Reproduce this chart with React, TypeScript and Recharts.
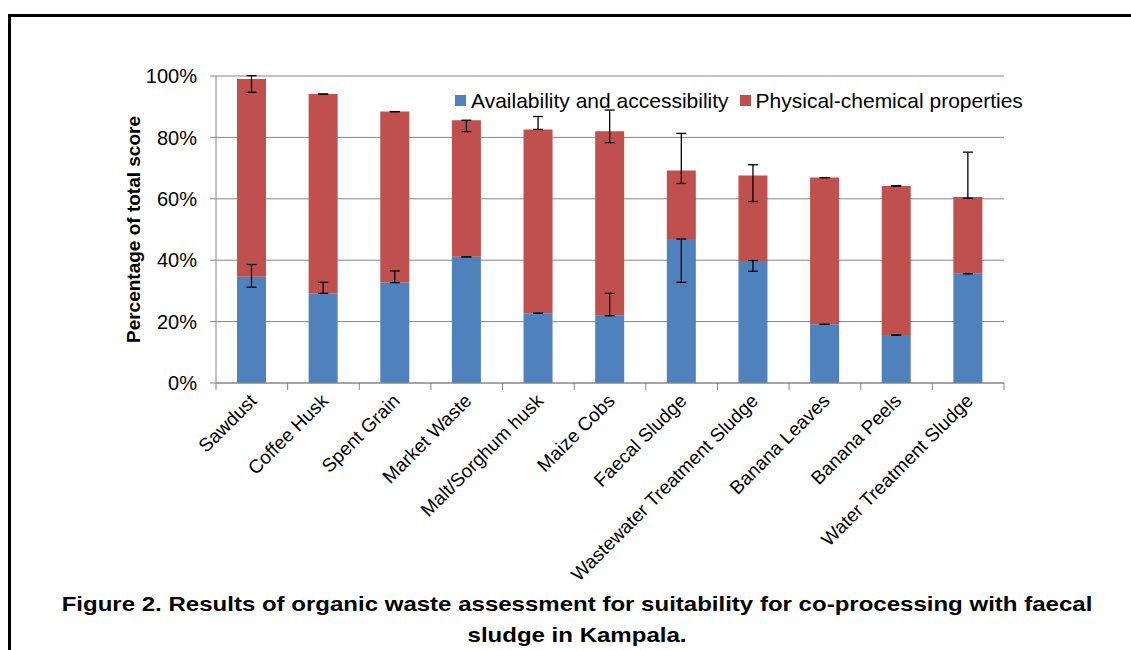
import { Bar, BarChart, CartesianGrid, ErrorBar, XAxis, YAxis } from "recharts";

const categories = [
  "Sawdust",
  "Coffee Husk",
  "Spent Grain",
  "Market Waste",
  "Malt/Sorghum husk",
  "Maize Cobs",
  "Faecal Sludge",
  "Wastewater Treatment Sludge",
  "Banana Leaves",
  "Banana Peels",
  "Water Treatment Sludge",
];
const availability = [34.6, 29.2, 32.7, 41.1, 22.7, 21.9, 46.9, 39.7, 19.1, 15.6, 35.6];
const physical = [64.4, 64.9, 55.7, 44.5, 59.9, 60.1, 22.3, 27.9, 47.8, 48.6, 25.0];
// [minus, plus] error lengths, in percentage points
const availabilityErr = [[3.4, 4.0], [0, 3.6], [0, 3.8], [0, 0], [0, 0], [0, 7.3], [14.1, 0], [3.3, 0.2], [0, 0], [0, 0], [0, 0]];
const physicalErr = [[4.3, 1.1], [0, 0], [0, 0], [3.7, 0], [0, 4.2], [3.7, 6.9], [4.2, 12.1], [8.5, 3.5], [0, 0], [0, 0], [0.4, 14.6]];
const yTicks = [0, 20, 40, 60, 80, 100];

const BLUE = "#4f81bd";
const RED = "#c0504d";
const FONT = "'Liberation Sans', Arial, sans-serif";

const PLOT_LEFT = 216;
const PLOT_RIGHT = 1004;
const PLOT_TOP = 76;
const PLOT_BOTTOM = 383;
const X_AXIS_H = 30;
const Y_AXIS_W = 160;
const HALF_BAND = (PLOT_RIGHT - PLOT_LEFT) / categories.length / 2;

const data = categories.map((name, i) => ({
  name,
  avail: availability[i],
  phys: physical[i],
  availErr: availabilityErr[i],
  physErr: physicalErr[i],
}));

function XTick(props: any) {
  const { x, y, payload, index } = props;
  const last = index === categories.length - 1;
  const tx = x + 6;
  const ty = y + 19;
  return (
    <g>
      <line x1={x - HALF_BAND} x2={x - HALF_BAND} y1={y} y2={y + 7} stroke="#868686" />
      {last && <line x1={x + HALF_BAND} x2={x + HALF_BAND} y1={y} y2={y + 7} stroke="#868686" />}
      <text
        x={tx}
        y={ty}
        transform={`rotate(-45, ${tx}, ${ty})`}
        textAnchor="end"
        fontSize={19}
        fontFamily={FONT}
        fill="#000"
      >
        {payload.value}
      </text>
    </g>
  );
}

function LegendBox() {
  const item = (color: string, label: string) => (
    <span style={{ display: "inline-flex", alignItems: "center", marginRight: 11 }}>
      <span style={{ width: 11, height: 11, background: color, marginRight: 5 }} />
      <span>{label}</span>
    </span>
  );
  return (
    <div
      style={{
        position: "absolute",
        left: 455,
        top: 87,
        fontFamily: FONT,
        fontSize: 21,
        color: "#000",
        whiteSpace: "nowrap",
        lineHeight: "24px",
      }}
    >
      {item(BLUE, "Availability and accessibility")}
      {item(RED, "Physical-chemical properties")}
    </div>
  );
}

export default function App() {
  return (
    <div
      style={{
        position: "absolute",
        left: 0,
        top: 0,
        width: 1131,
        height: 650,
        background: "#fff",
        fontFamily: FONT,
        overflow: "hidden",
      }}
    >
      <div
        style={{
          position: "absolute",
          left: 8,
          top: 14,
          width: 1131,
          height: 650,
          borderTop: "3px solid #000",
          borderLeft: "3px solid #000",
        }}
      />
      <BarChart
        width={1131}
        height={650}
        data={data}
        margin={{
          top: PLOT_TOP,
          right: 1131 - PLOT_RIGHT,
          bottom: 650 - PLOT_BOTTOM - X_AXIS_H,
          left: PLOT_LEFT - Y_AXIS_W,
        }}
        barSize={29}
        style={{ position: "absolute", left: 0, top: 0 }}
      >
        <CartesianGrid vertical={false} stroke="#868686" />
        <XAxis
          dataKey="name"
          interval={0}
          tickLine={false}
          tickSize={0}
          tickMargin={0}
          stroke="#868686"
          tick={<XTick />}
          height={X_AXIS_H}
        />
        <YAxis
          width={Y_AXIS_W}
          domain={[0, 100]}
          allowDataOverflow
          ticks={yTicks}
          tickFormatter={(v: number) => `${v}%`}
          tickSize={6}
          tickMargin={13}
          stroke="#868686"
          tick={{ fill: "#000", fontSize: 20, fontFamily: FONT }}
          label={{
            value: "Percentage of total score",
            angle: -90,
            position: "center",
            fill: "#000",
            fontSize: 19,
            fontWeight: "bold",
            fontFamily: FONT,
            dx: -3,
          }}
        />
        <Bar dataKey="avail" stackId="a" fill={BLUE} isAnimationActive={false}>
          <ErrorBar dataKey="availErr" width={5} stroke="#000" strokeWidth={1.3} />
        </Bar>
        <Bar dataKey="phys" stackId="a" fill={RED} isAnimationActive={false}>
          <ErrorBar dataKey="physErr" width={5} stroke="#000" strokeWidth={1.3} />
        </Bar>
      </BarChart>
      <LegendBox />
      <div
        style={{
          position: "absolute",
          left: 77,
          width: 1000,
          top: 588,
          textAlign: "center",
          fontWeight: "bold",
          fontSize: 21,
          lineHeight: "31px",
          color: "#000",
          transform: "scaleX(1.144)",
          transformOrigin: "50% 50%",
          whiteSpace: "nowrap",
        }}
      >
        Figure 2. Results of organic waste assessment for suitability for co-processing with faecal
        <br />
        sludge in Kampala.
      </div>
    </div>
  );
}
